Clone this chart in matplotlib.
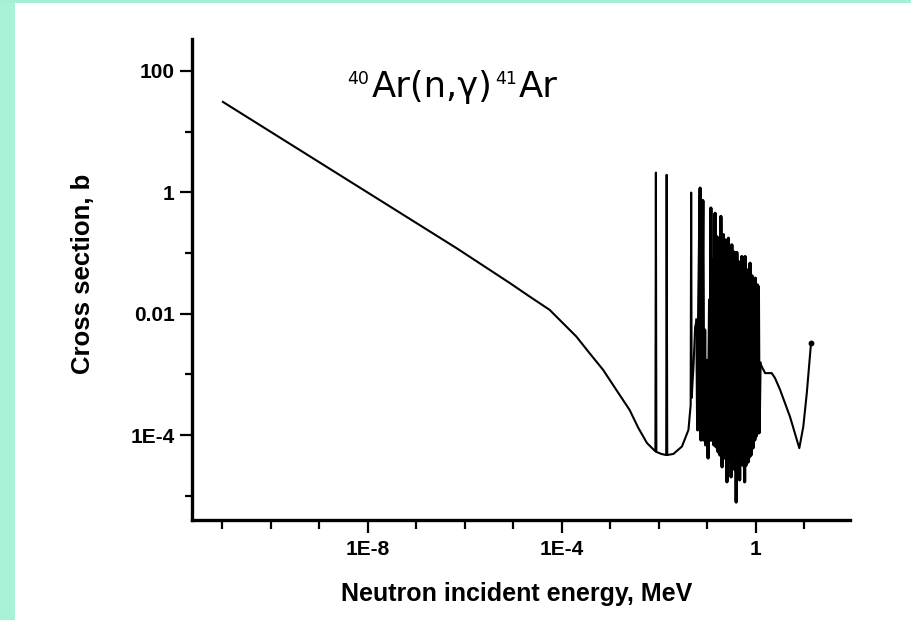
import matplotlib
matplotlib.use("Agg")
import matplotlib.pyplot as plt
from matplotlib.patches import Rectangle
from matplotlib.ticker import FixedLocator, FixedFormatter, NullFormatter
import numpy as np

# --- data (energy in MeV, cross section in b) ---

# 1/v region, valley and the first isolated resonances
thermal_e = [1.04e-11, 6.8e-7, 8.5e-6, 2.19e-5, 5.6e-5, 1.06e-4, 2.0e-4,
             3.75e-4, 7.1e-4, 1.33e-3, 2.5e-3, 3.77e-3, 5.7e-3,
             8.5e-3, 8.7e-3, 8.9e-3, 1.12e-2, 1.42e-2, 1.45e-2, 1.49e-2,
             2.0e-2, 3.0e-2, 4.08e-2, 4.53e-2, 4.64e-2, 4.75e-2, 5.18e-2,
             5.61e-2, 6.08e-2]
thermal_xs = [30.8, 0.12, 0.032, 0.0191, 0.0116, 6.97e-3, 4.2e-3,
              2.23e-3, 1.19e-3, 5.56e-4, 2.6e-4, 1.32e-4, 7.4e-5,
              5.4e-5, 2.11, 5.3e-5, 4.9e-5, 4.7e-5, 1.94, 4.7e-5,
              4.9e-5, 6.5e-5, 1.22e-4, 3.15e-4, 0.99, 4.1e-4, 1.35e-3,
              6.1e-3, 7.9e-3]

# resolved resonance forest (peak / valley pairs)
forest_e = [0.0632, 0.0662, 0.0711, 0.0738, 0.0807, 0.0839, 0.0879, 0.0923,
            0.0968, 0.1038, 0.1114, 0.1148, 0.1180, 0.1225, 0.1285, 0.1361,
            0.1445, 0.1517, 0.1592, 0.1667, 0.1750, 0.1816, 0.1897, 0.2015,
            0.2143, 0.2249, 0.2355, 0.2531, 0.2716, 0.2851, 0.2985, 0.3090,
            0.3192, 0.3350, 0.3508, 0.3681, 0.3819, 0.3932, 0.4046, 0.4246,
            0.4446, 0.4624, 0.4797, 0.4955, 0.5129, 0.5370, 0.5585, 0.5855,
            0.5998, 0.6281, 0.6592, 0.6918, 0.7244, 0.7420, 0.7603, 0.7962,
            0.8356, 0.8750, 0.918, 0.9493, 0.9772, 1.0233, 1.074, 1.099,
            1.125, 1.164]
forest_xs = [1.22e-4, 8.5e-3, 1.17, 8.3e-5, 0.73, 8.3e-5, 5.4e-3, 6.9e-5,
             1.7e-3, 4.2e-5, 0.0169, 8.3e-5, 0.55, 8.3e-5, 0.077, 6.9e-5,
             0.45, 6.4e-5, 0.184, 5.3e-5, 0.164, 4.7e-5, 0.40, 3.0e-5,
             0.20, 4.2e-5, 0.164, 1.7e-5, 0.175, 3.9e-5, 0.126, 2.05e-5,
             0.136, 3.6e-5, 0.104, 2.7e-5, 0.100, 7.9e-6, 0.102, 3.6e-5,
             0.0713, 1.83e-5, 0.0687, 3.6e-5, 0.0873, 3.2e-5, 0.0637, 1.7e-5,
             0.0873, 3.2e-5, 0.0527, 3.6e-5, 0.0489, 4.4e-5, 0.0679, 4.7e-5,
             0.0420, 6.15e-5, 0.0361, 8.3e-5, 0.0385, 9.7e-5, 0.0298, 1.09e-4,
             0.0280, 1.09e-4]

# fast neutron region
fast_e = [1.22, 1.55, 2.12, 2.48, 3.15, 5.06, 7.85, 9.49, 11.2, 13.7]
fast_xs = [1.53e-3, 1.05e-3, 1.05e-3, 8.7e-4, 5.6e-4, 2.0e-4, 6.1e-5,
           1.38e-4, 4.9e-4, 3.3e-3]

x_major = [1e-8, 1e-4, 1]
x_major_labels = ["1E-8", "1E-4", "1"]
x_minor = [1e-11, 1e-10, 1e-9, 1e-7, 1e-6, 1e-5, 1e-3, 1e-2, 1e-1, 10]
y_major = [100, 1, 0.01, 1e-4]
y_major_labels = ["100", "1", "0.01", "1E-4"]
y_minor = [10, 0.1, 1e-3, 1e-5]

energy = np.array(thermal_e + forest_e + fast_e)
xs = np.array(thermal_xs + forest_xs + fast_xs)

W, H = 912, 620
fig = plt.figure(figsize=(W / 100, H / 100), dpi=100)
fig.patch.set_facecolor("white")

# green frame strips
fig.patches.append(Rectangle((0, 0), 15 / W, 1, transform=fig.transFigure,
                             facecolor="#aaf2d6", edgecolor="none", zorder=0))
fig.patches.append(Rectangle((0, 1 - 3 / H), 1, 3 / H, transform=fig.transFigure,
                             facecolor="#a4f0d2", edgecolor="none", zorder=0))

ax = fig.add_axes([192 / W, 1 - 519.5 / H, (850.5 - 192) / W, (519.5 - 39.3) / H])
ax.set_facecolor("white")
ax.plot(energy, xs, color="black", lw=1.5)
# the dense forest prints as a solid block in the original
ax.plot(np.array(thermal_e[-1:] + forest_e + fast_e[:1]),
        np.array(thermal_xs[-1:] + forest_xs + fast_xs[:1]),
        color="black", lw=2.3)
ax.plot(energy[-1:], xs[-1:], "o", color="black", ms=3.2)

ax.set_xscale("log")
ax.set_yscale("log")
ax.set_xlim(10 ** -11.62, 10 ** 1.95)
ax.set_ylim(10 ** -5.39, 10 ** 2.52)

ax.xaxis.set_major_locator(FixedLocator(x_major))
ax.xaxis.set_major_formatter(FixedFormatter(x_major_labels))
ax.xaxis.set_minor_locator(FixedLocator(x_minor))
ax.xaxis.set_minor_formatter(NullFormatter())
ax.yaxis.set_major_locator(FixedLocator(y_major))
ax.yaxis.set_major_formatter(FixedFormatter(y_major_labels))
ax.yaxis.set_minor_locator(FixedLocator(y_minor))
ax.yaxis.set_minor_formatter(NullFormatter())

for side in ["top", "right"]:
    ax.spines[side].set_visible(False)
for side in ["left", "bottom"]:
    ax.spines[side].set_linewidth(2.4)

ax.tick_params(which="both", direction="out", width=1.6, color="black")
ax.tick_params(axis="x", which="major", length=9, pad=6)
ax.tick_params(axis="x", which="minor", length=6.5)
ax.tick_params(axis="y", which="major", length=8.5, pad=4)
ax.tick_params(axis="y", which="minor", length=5)

for lab in ax.get_xticklabels() + ax.get_yticklabels():
    lab.set_fontfamily(["Liberation Sans", "DejaVu Sans"])
    lab.set_fontweight("bold")
    lab.set_fontsize(15)

# axis titles
fig.text(517 / W, 1 - 601 / H, "Neutron incident energy, MeV", ha="center",
         va="baseline", fontsize=18, fontweight="bold",
         family=["Liberation Sans", "DejaVu Sans"])
fig.text(83 / W, 1 - 274 / H, "Cross section, b", ha="center", va="center",
         rotation=90, fontsize=18.5, fontweight="bold",
         family=["Liberation Sans", "DejaVu Sans"])

# reaction label
fig.text(347 / W, 1 - 84 / H, "40", ha="left", va="baseline", fontsize=12.5,
         family="DejaVu Sans")
fig.text(372 / W, 1 - 97 / H, "Ar(n,γ)", ha="left", va="baseline", fontsize=25.5,
         family="DejaVu Sans")
fig.text(495 / W, 1 - 84 / H, "41", ha="left", va="baseline", fontsize=12.5,
         family="DejaVu Sans")
fig.text(519 / W, 1 - 97 / H, "Ar", ha="left", va="baseline", fontsize=25.5,
         family="DejaVu Sans")

fig.savefig("out.png", dpi=100, facecolor=fig.get_facecolor())
